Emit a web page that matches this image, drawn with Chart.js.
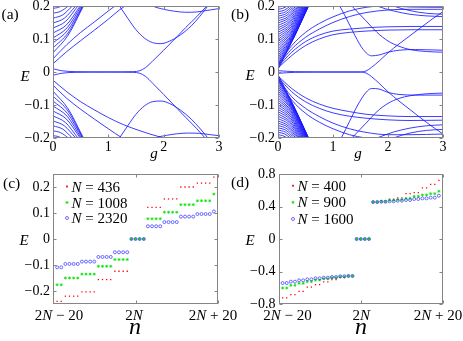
<!DOCTYPE html>
<html><head><meta charset="utf-8">
<script src="https://cdn.jsdelivr.net/npm/chart.js@4.4.0/dist/chart.umd.min.js"></script>
<style>html,body{margin:0;padding:0;background:#fff;width:463px;height:341px;overflow:hidden}canvas{position:absolute;left:0;top:0}</style>
</head><body>
<canvas id="pa" width="463" height="341"></canvas>
<canvas id="pb" width="463" height="341"></canvas>
<canvas id="pc" width="463" height="341"></canvas>
<canvas id="pd" width="463" height="341"></canvas>
<script>
// ---------- Panel (a): spectrum E vs g (curves as [g, E] points) ----------
const gTicks = [0, 1, 2, 3];
const gTickLabels = ['0', '1', '2', '3'];
const eTicksAB = [-0.2, -0.1, 0, 0.1, 0.2];
const eTickLabelsAB = ['\u22120.2', '\u22120.1', '0', '0.1', '0.2'];

const aZeroUp = [[0,0.01],[0.15,0.004],[0.4,0.001],[1.0,0],[1.45,0.001],[1.57,0.004],[1.67,0.013],[1.8,0.033],[2.0,0.066],[2.2,0.1],[2.4,0.135],[2.6,0.168],[2.78,0.2],[2.85,0.212]];
const aZeroDown = [[0,-0.01],[0.15,-0.004],[0.4,-0.001],[1.0,0],[1.45,-0.001],[1.57,-0.004],[1.67,-0.013],[1.8,-0.034],[2.0,-0.068],[2.2,-0.103],[2.4,-0.138],[2.6,-0.172],[2.75,-0.2],[2.82,-0.212]];
const aDipUp = [[1.1,0.22],[1.2,0.2],[1.35,0.163],[1.5,0.128],[1.65,0.103],[1.8,0.089],[1.95,0.086],[2.1,0.093],[2.3,0.112],[2.5,0.14],[2.65,0.168],[2.8,0.2],[2.85,0.21]];
const aDipDown = [[1.1,-0.22],[1.2,-0.2],[1.35,-0.163],[1.5,-0.128],[1.65,-0.103],[1.8,-0.09],[1.95,-0.088],[2.1,-0.095],[2.3,-0.115],[2.5,-0.143],[2.65,-0.17],[2.8,-0.2],[2.85,-0.21]];
const aTopUp = [[1.65,0.215],[1.8,0.2],[2.0,0.19],[2.2,0.184],[2.4,0.181],[2.6,0.182],[2.8,0.187],[3.0,0.192]];
const aTopDown = [[1.7,-0.215],[1.85,-0.2],[2.05,-0.192],[2.25,-0.187],[2.45,-0.185],[2.65,-0.186],[2.85,-0.19],[3.0,-0.193]];
const aSlowUp1 = [[0,0.025],[0.25,0.062],[0.5,0.095],[0.75,0.127],[1.0,0.16],[1.2,0.188],[1.3,0.2],[1.4,0.212]];
const aSlowUp2 = [[0,0.04],[0.25,0.083],[0.5,0.12],[0.75,0.152],[1.0,0.185],[1.12,0.2],[1.2,0.21]];
const aSlowDown1 = [[0,-0.025],[0.25,-0.06],[0.5,-0.09],[0.75,-0.115],[1.0,-0.138],[1.25,-0.158],[1.5,-0.174],[1.75,-0.188],[2.0,-0.2],[2.2,-0.21]];
const aSlowDown2 = [[0,-0.04],[0.25,-0.08],[0.5,-0.113],[0.75,-0.143],[1.0,-0.172],[1.25,-0.2],[1.35,-0.21]];
const aFanUp = [
 [[0,0.058],[0.275,0.112],[0.55,0.2]], [[0,0.073],[0.27,0.118],[0.54,0.2]],
 [[0,0.088],[0.265,0.126],[0.53,0.2]], [[0,0.103],[0.255,0.134],[0.51,0.2]],
 [[0,0.118],[0.245,0.143],[0.49,0.2]], [[0,0.133],[0.225,0.153],[0.45,0.2]],
 [[0,0.148],[0.205,0.163],[0.41,0.2]], [[0,0.163],[0.175,0.173],[0.35,0.2]],
 [[0,0.178],[0.14,0.184],[0.28,0.2]], [[0,0.193],[0.08,0.195],[0.16,0.2]]];
const aFanDown = [
 [[0,-0.058],[0.275,-0.112],[0.55,-0.2]], [[0,-0.073],[0.27,-0.118],[0.54,-0.2]],
 [[0,-0.088],[0.265,-0.126],[0.53,-0.2]], [[0,-0.103],[0.255,-0.134],[0.51,-0.2]],
 [[0,-0.118],[0.245,-0.143],[0.49,-0.2]], [[0,-0.133],[0.225,-0.153],[0.45,-0.2]],
 [[0,-0.148],[0.205,-0.163],[0.41,-0.2]], [[0,-0.163],[0.175,-0.173],[0.35,-0.2]],
 [[0,-0.178],[0.14,-0.184],[0.28,-0.2]], [[0,-0.193],[0.08,-0.195],[0.16,-0.2]]];

// ---------- Panel (b) ----------
const bZeroUp = [[0,0.004],[0.3,0.001],[1.0,0],[1.5,0],[1.6,0.003],[1.7,0.014],[1.85,0.035],[2.0,0.058],[2.2,0.085],[2.4,0.11],[2.6,0.135],[2.8,0.16],[3.0,0.183]];
const bZeroDown = [[0,-0.004],[0.3,-0.001],[1.0,0],[1.5,0],[1.6,-0.003],[1.7,-0.014],[1.85,-0.036],[2.0,-0.06],[2.2,-0.088],[2.4,-0.114],[2.6,-0.14],[2.8,-0.165],[3.0,-0.188]];
const bDipUp = [[1.05,0.215],[1.12,0.2],[1.25,0.16],[1.4,0.11],[1.55,0.068],[1.7,0.049],[1.85,0.052],[2.0,0.06],[2.2,0.066],[2.5,0.068],[2.8,0.067],[3.0,0.066]];
const bDipDown = [[1.1,-0.215],[1.15,-0.2],[1.3,-0.15],[1.45,-0.1],[1.6,-0.062],[1.7,-0.05],[1.85,-0.052],[2.0,-0.062],[2.2,-0.068],[2.5,-0.07],[3.0,-0.07]];
const bFallUp = [[1.25,0.215],[1.4,0.19],[1.6,0.155],[1.8,0.12],[2.0,0.094],[2.2,0.078],[2.4,0.068],[2.7,0.062],[3.0,0.06]];
const bFallDown = [[1.25,-0.215],[1.4,-0.19],[1.6,-0.155],[1.8,-0.12],[2.0,-0.095],[2.2,-0.08],[2.4,-0.072],[2.7,-0.066],[3.0,-0.064]];
const bMidUp1 = [[0,0.012],[0.25,0.05],[0.5,0.08],[0.75,0.1],[1.0,0.113],[1.3,0.12],[1.6,0.124],[2.0,0.127],[2.4,0.128],[3.0,0.128]];
const bMidUp2 = [[0,0.016],[0.25,0.06],[0.5,0.092],[0.75,0.112],[1.0,0.124],[1.3,0.13],[1.6,0.134],[2.0,0.137],[2.4,0.138],[3.0,0.138]];
const bHighUp1 = [[0,0.02],[0.25,0.07],[0.5,0.105],[0.75,0.13],[1.0,0.15],[1.3,0.168],[1.6,0.18],[2.0,0.188],[2.4,0.19],[3.0,0.19]];
const bHighUp2 = [[0,0.024],[0.25,0.08],[0.5,0.12],[0.75,0.147],[1.0,0.167],[1.3,0.185],[1.6,0.196],[2.0,0.2],[2.4,0.197],[3.0,0.196]];
const bMidDown1 = [[0,-0.012],[0.25,-0.05],[0.5,-0.078],[0.75,-0.097],[1.0,-0.11],[1.3,-0.12],[1.6,-0.128],[2.0,-0.133],[2.4,-0.135],[3.0,-0.135]];
const bMidDown2 = [[0,-0.016],[0.25,-0.06],[0.5,-0.09],[0.75,-0.11],[1.0,-0.124],[1.3,-0.134],[1.6,-0.14],[2.0,-0.145],[2.4,-0.147],[3.0,-0.146]];
const bHighDown1 = [[0,-0.02],[0.25,-0.075],[0.5,-0.11],[0.75,-0.135],[1.0,-0.155],[1.3,-0.172],[1.6,-0.183],[2.0,-0.19],[2.4,-0.19],[3.0,-0.188]];
const bHighDown2 = [[0,-0.024],[0.25,-0.085],[0.5,-0.125],[0.75,-0.152],[1.0,-0.172],[1.3,-0.19],[1.6,-0.2],[2.0,-0.205]];
const bTopUp1 = [[1.6,0.215],[1.8,0.2],[2.1,0.185],[2.4,0.175],[2.7,0.17],[3.0,0.168]];
const bTopUp2 = [[1.9,0.215],[2.1,0.2],[2.4,0.186],[2.7,0.178],[3.0,0.175]];
const bTopDown1 = [[1.6,-0.215],[1.8,-0.2],[2.1,-0.182],[2.4,-0.17],[2.7,-0.163],[3.0,-0.16]];
const bTopDown2 = [[1.9,-0.215],[2.1,-0.2],[2.4,-0.185],[2.7,-0.177],[3.0,-0.174]];
const bFanUp = [
 [[0,0.008],[0.278,0.100],[0.555,0.2]], [[0,0.015],[0.277,0.101],[0.554,0.2]],
 [[0,0.022],[0.276,0.102],[0.552,0.2]], [[0,0.029],[0.275,0.103],[0.550,0.2]],
 [[0,0.036],[0.273,0.105],[0.546,0.2]], [[0,0.043],[0.272,0.107],[0.543,0.2]],
 [[0,0.050],[0.269,0.109],[0.538,0.2]], [[0,0.057],[0.267,0.112],[0.533,0.2]],
 [[0,0.064],[0.263,0.114],[0.526,0.2]], [[0,0.071],[0.260,0.117],[0.519,0.2]],
 [[0,0.078],[0.256,0.121],[0.512,0.2]], [[0,0.085],[0.252,0.124],[0.503,0.2]],
 [[0,0.092],[0.247,0.128],[0.493,0.2]], [[0,0.099],[0.242,0.132],[0.483,0.2]],
 [[0,0.106],[0.236,0.136],[0.471,0.2]], [[0,0.113],[0.229,0.140],[0.458,0.2]],
 [[0,0.120],[0.222,0.144],[0.444,0.2]], [[0,0.127],[0.215,0.149],[0.429,0.2]],
 [[0,0.134],[0.206,0.153],[0.412,0.2]], [[0,0.141],[0.197,0.158],[0.394,0.2]],
 [[0,0.148],[0.187,0.163],[0.374,0.2]], [[0,0.155],[0.176,0.167],[0.351,0.2]],
 [[0,0.162],[0.163,0.172],[0.326,0.2]], [[0,0.169],[0.149,0.177],[0.297,0.2]],
 [[0,0.176],[0.132,0.182],[0.264,0.2]], [[0,0.183],[0.112,0.187],[0.224,0.2]],
 [[0,0.190],[0.087,0.193],[0.173,0.2]], [[0,0.197],[0.048,0.198],[0.096,0.2]]];
const bFanDown = [
 [[0,-0.008],[0.278,-0.100],[0.555,-0.2]], [[0,-0.015],[0.277,-0.101],[0.554,-0.2]],
 [[0,-0.022],[0.276,-0.102],[0.552,-0.2]], [[0,-0.029],[0.275,-0.103],[0.550,-0.2]],
 [[0,-0.036],[0.273,-0.105],[0.546,-0.2]], [[0,-0.043],[0.272,-0.107],[0.543,-0.2]],
 [[0,-0.050],[0.269,-0.109],[0.538,-0.2]], [[0,-0.057],[0.267,-0.112],[0.533,-0.2]],
 [[0,-0.064],[0.263,-0.114],[0.526,-0.2]], [[0,-0.071],[0.260,-0.117],[0.519,-0.2]],
 [[0,-0.078],[0.256,-0.121],[0.512,-0.2]], [[0,-0.085],[0.252,-0.124],[0.503,-0.2]],
 [[0,-0.092],[0.247,-0.128],[0.493,-0.2]], [[0,-0.099],[0.242,-0.132],[0.483,-0.2]],
 [[0,-0.106],[0.236,-0.136],[0.471,-0.2]], [[0,-0.113],[0.229,-0.140],[0.458,-0.2]],
 [[0,-0.120],[0.222,-0.144],[0.444,-0.2]], [[0,-0.127],[0.215,-0.149],[0.429,-0.2]],
 [[0,-0.134],[0.206,-0.153],[0.412,-0.2]], [[0,-0.141],[0.197,-0.158],[0.394,-0.2]],
 [[0,-0.148],[0.187,-0.163],[0.374,-0.2]], [[0,-0.155],[0.176,-0.167],[0.351,-0.2]],
 [[0,-0.162],[0.163,-0.172],[0.326,-0.2]], [[0,-0.169],[0.149,-0.177],[0.297,-0.2]],
 [[0,-0.176],[0.132,-0.182],[0.264,-0.2]], [[0,-0.183],[0.112,-0.187],[0.224,-0.2]],
 [[0,-0.190],[0.087,-0.193],[0.173,-0.2]], [[0,-0.197],[0.048,-0.198],[0.096,-0.2]]];

// ---------- Panels (c) and (d): levels E_n around n = 2N ----------
const nOffsets = [-19,-18,-17,-16,-15,-14,-13,-12,-11,-10,-9,-8,-7,-6,-5,-4,-3,-2,-1,0,1,2,3,4,5,6,7,8,9,10,11,12,13,14,15,16,17,18,19];
const nTicks = [-20, 0, 20];
const eTicksC = [-0.2, -0.1, 0, 0.1, 0.2];
const eTickLabelsC = ['\u22120.2', '\u22120.1', '0', '0.1', '0.2'];
const eTicksD = [-0.8, -0.4, 0, 0.4, 0.8];
const eTickLabelsD = ['\u22120.8', '\u22120.4', '0', '0.4', '0.8'];
const cLabels = ['N = 436', 'N = 1008', 'N = 2320'];
const cE436 = [-0.24,-0.24,-0.22,-0.22,-0.22,-0.22,-0.203,-0.203,-0.203,-0.203,-0.156,-0.156,-0.156,-0.156,-0.124,-0.124,-0.124,-0.124,0,0,0,0,0.122,0.122,0.122,0.122,0.154,0.154,0.154,0.154,0.2,0.2,0.2,0.2,0.215,0.215,0.215,0.215,0.238];
const cE1008 = [-0.176,-0.176,-0.15,-0.15,-0.15,-0.15,-0.135,-0.135,-0.135,-0.135,-0.105,-0.105,-0.105,-0.105,-0.079,-0.079,-0.079,-0.079,0,0,0,0,0.078,0.078,0.078,0.078,0.103,0.103,0.103,0.103,0.132,0.132,0.132,0.132,0.147,0.147,0.147,0.147,0.173];
const cE2320 = [-0.109,-0.109,-0.096,-0.096,-0.096,-0.096,-0.087,-0.087,-0.087,-0.087,-0.069,-0.069,-0.069,-0.069,-0.051,-0.051,-0.051,-0.051,0,0,0,0,0.049,0.049,0.049,0.049,0.065,0.065,0.065,0.065,0.086,0.086,0.086,0.086,0.096,0.096,0.096,0.096,0.106];
const dLabels = ['N = 400', 'N = 900', 'N = 1600'];
const dE400 = [-0.726,-0.726,-0.685,-0.685,-0.644,-0.644,-0.591,-0.591,-0.562,-0.562,-0.529,-0.529,-0.501,-0.501,-0.476,-0.476,-0.459,-0.459,0,0,0,0,0.455,0.455,0.468,0.468,0.492,0.492,0.505,0.505,0.558,0.558,0.570,0.570,0.628,0.628,0.673,0.673,0.722];
const dE900 = [-0.603,-0.603,-0.570,-0.570,-0.546,-0.546,-0.525,-0.525,-0.505,-0.505,-0.488,-0.488,-0.476,-0.476,-0.464,-0.464,-0.455,-0.455,0,0,0,0,0.455,0.455,0.459,0.459,0.476,0.476,0.484,0.484,0.5,0.5,0.525,0.525,0.542,0.542,0.558,0.558,0.587];
const dE1600 = [-0.542,-0.542,-0.525,-0.525,-0.509,-0.509,-0.496,-0.496,-0.484,-0.484,-0.476,-0.476,-0.468,-0.468,-0.459,-0.459,-0.455,-0.455,0,0,0,0,0.455,0.455,0.459,0.459,0.464,0.464,0.472,0.472,0.48,0.48,0.492,0.492,0.5,0.5,0.509,0.509,0.533];

// ---------- styling / helpers ----------
const FONT = '"Liberation Serif", "Times New Roman", serif';
const LINE_BLUE = 'rgb(25,25,255)';
const RED = 'rgb(255,0,0)', GREEN = 'rgb(0,225,0)', BLUE = 'rgb(50,50,255)';

function rich(ctx, segs, x, y, size, align) {
  const ws = segs.map(([s, it]) => { ctx.font = (it ? 'italic ' : '') + size + 'px ' + FONT; return ctx.measureText(s).width; });
  const w = ws.reduce((a, b) => a + b, 0);
  let cx = align === 'center' ? x - w / 2 : (align === 'right' ? x - w : x);
  segs.forEach(([s, it], i) => { ctx.font = (it ? 'italic ' : '') + size + 'px ' + FONT; ctx.fillText(s, cx, y); cx += ws[i]; });
}
function marker(ctx, ds, x, y) {
  ctx.save();
  ctx.fillStyle = ds.backgroundColor; ctx.strokeStyle = ds.borderColor; ctx.lineWidth = ds.borderWidth || 1;
  const r = ds.pointRadius;
  if (ds.pointStyle === 'rect') { ctx.fillRect(x - r, y - r, 2 * r, 2 * r); }
  else if (ds.pointStyle === 'star') {
    ctx.beginPath();
    ctx.moveTo(x - r, y); ctx.lineTo(x + r, y); ctx.moveTo(x, y - r); ctx.lineTo(x, y + r);
    const q = r * 0.7; ctx.moveTo(x - q, y - q); ctx.lineTo(x + q, y + q); ctx.moveTo(x - q, y + q); ctx.lineTo(x + q, y - q);
    ctx.stroke();
  } else { ctx.beginPath(); ctx.arc(x, y, r, 0, Math.PI * 2); ctx.stroke(); }
  ctx.restore();
}
const deco = {
  id: 'deco',
  afterDraw(chart, args, o) {
    const ctx = chart.ctx, a = chart.chartArea, xs = chart.scales.x, ys = chart.scales.y;
    ctx.save();
    ctx.strokeStyle = '#858585'; ctx.lineWidth = 1;
    const L = Math.round(a.left) + 0.5, R = Math.round(a.right) - 0.5, T = Math.round(a.top) + 0.5, B = Math.round(a.bottom) - 0.5;
    ctx.strokeRect(L, T, R - L, B - T);
    ctx.beginPath();
    xs.ticks.forEach(t => { const x = Math.round(xs.getPixelForValue(t.value)) + 0.5; ctx.moveTo(x, B); ctx.lineTo(x, B - 3); ctx.moveTo(x, T); ctx.lineTo(x, T + 3); });
    ys.ticks.forEach(t => { const y = Math.round(ys.getPixelForValue(t.value)) + 0.5; ctx.moveTo(L, y); ctx.lineTo(L + 3, y); ctx.moveTo(R, y); ctx.lineTo(R - 3, y); });
    ctx.stroke();
    ctx.fillStyle = '#000'; ctx.textBaseline = 'alphabetic'; ctx.textAlign = 'left';
    (o.texts || []).forEach(t => rich(ctx, t.segs, t.x, t.y, t.size, t.align));
    if (o.xLabels) xs.ticks.forEach((t, i) => rich(ctx, o.xLabels[i], xs.getPixelForValue(t.value) + o.xOff[i], o.xLabelY, o.xLabelSize, 'center'));
    if (o.legend) {
      chart.data.datasets.forEach((ds, i) => {
        const yRow = o.legend.rows[i];
        marker(ctx, ds, o.legend.mx, yRow - 5);
        ctx.fillStyle = '#000';
        const parts = ds.label.split(' = ');
        rich(ctx, [[parts[0], 1], [' = ', 0], [parts[1], 0]], o.legend.tx, yRow, o.legend.size, 'left');
      });
    }
    ctx.restore();
  }
};

function baseOptions(p) {
  return {
    responsive: false, animation: false, devicePixelRatio: 1, events: [],
    layout: { padding: { left: p.L - 40, top: p.T, right: 463 - p.R, bottom: 341 - p.B - 30 } },
    plugins: { legend: { display: false }, tooltip: { enabled: false }, deco: p.deco },
    scales: {
      x: {
        type: 'linear', min: p.xmin, max: p.xmax,
        grid: { display: false, drawTicks: false }, border: { display: false },
        afterBuildTicks: s => { s.ticks = p.xt.map(v => ({ value: v })); },
        afterFit: s => { s.height = 30; s.paddingLeft = 0; s.paddingRight = 0; },
        ticks: { display: !!p.xtl, autoSkip: false, maxRotation: 0, padding: 1, color: '#000',
                 font: { family: FONT, size: 14 }, callback: (v, i) => p.xtl ? p.xtl[i] : '' }
      },
      y: {
        type: 'linear', min: p.ymin, max: p.ymax,
        grid: { display: false, drawTicks: false }, border: { display: false },
        afterBuildTicks: s => { s.ticks = p.yt.map(v => ({ value: v })); },
        afterFit: s => { s.width = 40; s.paddingTop = 0; s.paddingBottom = 0; },
        ticks: { autoSkip: false, padding: 3, color: '#000',
                 font: { family: FONT, size: 14 }, callback: (v, i) => p.ytl[i] }
      }
    }
  };
}
function lineSets(curves) {
  return curves.map(c => ({
    data: c.map(([x, y]) => ({ x, y })), showLine: true, pointRadius: 0,
    borderColor: LINE_BLUE, borderWidth: 0.85, cubicInterpolationMode: 'monotone', fill: false
  }));
}
function pointSets(labels, series) {
  const st = [
    { pointStyle: 'rect', pointRadius: 0.9, backgroundColor: RED, borderColor: RED, borderWidth: 0, order: 3 },
    { pointStyle: 'star', pointRadius: 1.5, backgroundColor: GREEN, borderColor: GREEN, borderWidth: 0.7, order: 2 },
    { pointStyle: 'circle', pointRadius: 1.5, backgroundColor: 'rgba(0,0,0,0)', borderColor: BLUE, borderWidth: 0.7, order: 1 }];
  return series.map((s, k) => Object.assign({ label: labels[k], data: s.map((e, i) => ({ x: nOffsets[i], y: e })), showLine: false }, st[k]));
}

function build() {
  Chart.defaults.font.family = FONT;
  // (a)
  new Chart(document.getElementById('pa'), {
    type: 'scatter',
    data: { datasets: lineSets([aZeroUp, aZeroDown, aDipUp, aDipDown, aTopUp, aTopDown, aSlowUp1, aSlowUp2, aSlowDown1, aSlowDown2, ...aFanUp, ...aFanDown]) },
    options: baseOptions({ L: 53, T: 6, R: 219, B: 138, xmin: 0, xmax: 3, ymin: -0.2, ymax: 0.2, xt: gTicks, xtl: gTickLabels, yt: eTicksAB, ytl: eTickLabelsAB,
      deco: { texts: [ { segs: [['(a)', 0]], x: 1.5, y: 19, size: 15.5, align: 'left' },
                       { segs: [['E', 1]], x: 25, y: 81, size: 15, align: 'center' },
                       { segs: [['g', 1]], x: 154, y: 158, size: 15, align: 'center' } ] } }),
    plugins: [deco]
  });
  // (b)
  new Chart(document.getElementById('pb'), {
    type: 'scatter',
    data: { datasets: lineSets([bZeroUp, bZeroDown, bDipUp, bDipDown, bFallUp, bFallDown, bMidUp1, bMidUp2, bHighUp1, bHighUp2, bMidDown1, bMidDown2, bHighDown1, bHighDown2, bTopUp1, bTopUp2, bTopDown1, bTopDown2, ...bFanUp, ...bFanDown]) },
    options: baseOptions({ L: 278, T: 6, R: 443, B: 138, xmin: 0, xmax: 3, ymin: -0.2, ymax: 0.2, xt: gTicks, xtl: gTickLabels, yt: eTicksAB, ytl: eTickLabelsAB,
      deco: { texts: [ { segs: [['(b)', 0]], x: 231, y: 19, size: 15.5, align: 'left' },
                       { segs: [['E', 1]], x: 250, y: 80, size: 15, align: 'center' },
                       { segs: [['g', 1]], x: 358, y: 158, size: 15, align: 'center' } ] } }),
    plugins: [deco]
  });
  // (c)
  new Chart(document.getElementById('pc'), {
    type: 'scatter',
    data: { datasets: pointSets(cLabels, [cE436, cE1008, cE2320]) },
    options: baseOptions({ L: 53, T: 174, R: 218, B: 304, xmin: -20, xmax: 20, ymin: -0.25, ymax: 0.25, xt: nTicks, xtl: null, yt: eTicksC, ytl: eTickLabelsC,
      deco: { texts: [ { segs: [['(c)', 0]], x: 3, y: 188, size: 15.5, align: 'left' },
                       { segs: [['E', 1]], x: 24, y: 245, size: 15, align: 'center' },
                       { segs: [['n', 1]], x: 135, y: 334, size: 24, align: 'center' } ],
              xLabels: [[['2', 0], ['N', 1], [' \u2212 20', 0]], [['2', 0], ['N', 1]], [['2', 0], ['N', 1], [' + 20', 0]]],
              xOff: [6, -1.5, -5], xLabelY: 320, xLabelSize: 15,
              legend: { mx: 67, tx: 71.5, rows: [191.5, 207.5, 223], size: 15 } } }),
    plugins: [deco]
  });
  // (d)
  new Chart(document.getElementById('pd'), {
    type: 'scatter',
    data: { datasets: pointSets(dLabels, [dE400, dE900, dE1600]) },
    options: baseOptions({ L: 278.5, T: 174, R: 443, B: 304, xmin: -20, xmax: 20, ymin: -0.8, ymax: 0.8, xt: nTicks, xtl: null, yt: eTicksD, ytl: eTickLabelsD,
      deco: { texts: [ { segs: [['(d)', 0]], x: 231, y: 187, size: 15.5, align: 'left' },
                       { segs: [['E', 1]], x: 250, y: 245, size: 15, align: 'center' },
                       { segs: [['n', 1]], x: 361, y: 334, size: 24, align: 'center' } ],
              xLabels: [[['2', 0], ['N', 1], [' \u2212 20', 0]], [['2', 0], ['N', 1]], [['2', 0], ['N', 1], [' + 20', 0]]],
              xOff: [9, 0.5, -5], xLabelY: 320, xLabelSize: 15,
              legend: { mx: 293, tx: 297.5, rows: [190.7, 207.3, 224], size: 15 } } }),
    plugins: [deco]
  });
}
build();
</script>
</body></html>
